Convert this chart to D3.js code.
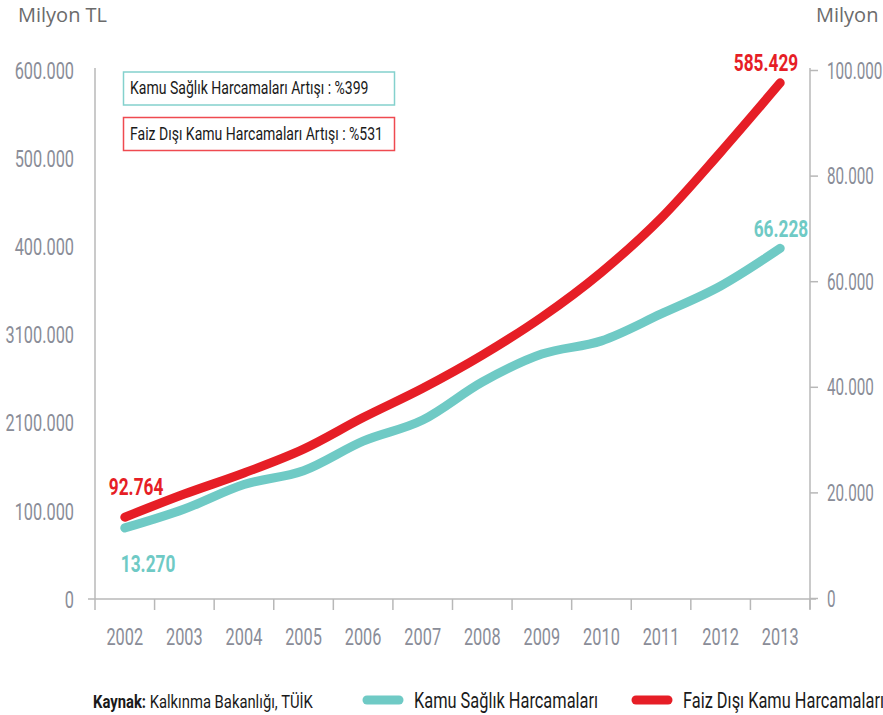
<!DOCTYPE html>
<html><head><meta charset="utf-8">
<script src="https://cdn.jsdelivr.net/npm/d3@7"></script>
<style>body{margin:0;background:#fff}svg{display:block}</style>
</head><body><svg id="c" width="883" height="715"></svg>
<script>
const years = ["2002","2003","2004","2005","2006","2007","2008","2009","2010","2011","2012","2013"];
const faizDisi = [92764,119000,142900,170000,205800,239000,276600,319700,370700,432000,506800,585429];
const saglik = [13270,16860,21500,24100,29700,33700,40900,46200,48700,53800,59100,66228];
const leftTickValues = [0,100000,200000,300000,400000,500000,600000];
const leftTickLabels = ["0","100.000","2100.000","3100.000","400.000","500.000","600.000"];
const rightTickValues = [0,20000,40000,60000,80000,100000];
const rightTickLabels = ["0","20.000","40.000","60.000","80.000","100.000"];
const seriesNames = ["Kamu Sağlık Harcamaları","Faiz Dışı Kamu Harcamaları"];
const increaseLabels = ["Kamu Sağlık Harcamaları Artışı : %399","Faiz Dışı Kamu Harcamaları Artışı : %531"];
const unitLabelLeft = "Milyon TL";
const unitLabelRight = "Milyon";
const sourceBold = "Kaynak:";
const sourceText = " Kalkınma Bakanlığı, TÜİK";

const RED = "#e61e26", TEAL = "#6fcac5", AX = "#b8b8b8", TICKTXT = "#8a8d98";
const FONT = "Roboto, 'Liberation Sans', sans-serif";
const fmt = v => d3.format(",")(v).replace(/,/g, ".");

const svg = d3.select("#c");
const x = d3.scaleBand().domain(years).range([95, 810]).padding(0);
const xc = d => x(d) + x.bandwidth() / 2;
const yL = d3.scaleLinear().domain([0, 600000]).range([599, 70]);
const yR = d3.scaleLinear().domain([0, 100000]).range([598, 70]);

function condense(sel, sx) {
  sel.each(function () {
    const t = d3.select(this);
    const xv = +t.attr("x") || 0;
    t.attr("x", xv / sx).attr("transform", `scale(${sx},1)`);
  });
}
function ctext(px, py, str, opt) {
  const g = svg.append("g").attr("transform", `translate(${px},${py})`);
  const t = g.append("text").attr("x", 0).attr("y", 0)
    .attr("font-family", FONT).attr("font-size", opt.size)
    .attr("font-weight", opt.weight || 400).attr("fill", opt.fill)
    .attr("text-anchor", opt.anchor || "start")
    .attr("transform", `scale(${opt.sx},1)`).text(str);
  return t;
}

// unit labels
svg.append("text").attr("x", 18).attr("y", 22).attr("font-family", "'Open Sans', sans-serif")
  .attr("font-size", 20).attr("fill", "#6b6b6b").text(unitLabelLeft);
svg.append("text").attr("x", 816).attr("y", 22).attr("font-family", "'Open Sans', sans-serif")
  .attr("font-size", 20).attr("fill", "#6b6b6b").text(unitLabelRight);

// left axis
const gL = svg.append("g").attr("transform", "translate(95,0)")
  .call(d3.axisLeft(yL).tickValues(leftTickValues).tickSize(0).tickPadding(21)
    .tickFormat((d, i) => leftTickLabels[i]));
gL.select(".domain").remove();
gL.selectAll("text").attr("font-family", FONT).attr("font-size", 24).attr("fill", TICKTXT).attr("dy", "0.34em");
condense(gL.selectAll("text"), 0.68);
svg.append("line").attr("x1", 95).attr("x2", 95).attr("y1", yL.range()[1] - 2).attr("y2", yL(0) + 11)
  .attr("stroke", AX).attr("stroke-width", 1.5);

// right axis
const gR = svg.append("g").attr("transform", "translate(810,0)")
  .call(d3.axisRight(yR).tickValues(rightTickValues).tickSize(8).tickPadding(9)
    .tickFormat((d, i) => rightTickLabels[i]));
gR.select(".domain").remove();
gR.selectAll("line").attr("stroke", AX).attr("stroke-width", 1.5);
gR.selectAll("text").attr("font-family", FONT).attr("font-size", 24).attr("fill", TICKTXT).attr("dy", "0.34em");
condense(gR.selectAll("text"), 0.635);
svg.append("line").attr("x1", 810).attr("x2", 810).attr("y1", yR.range()[1] - 2).attr("y2", yR(0) + 11)
  .attr("stroke", AX).attr("stroke-width", 1.5);

// x axis
const gX = svg.append("g").attr("transform", `translate(0,${yL(0)})`)
  .call(d3.axisBottom(x).tickSize(0).tickPadding(0));
gX.select(".domain").remove();
gX.selectAll("text").attr("font-family", FONT).attr("font-size", 24).attr("fill", TICKTXT)
  .attr("y", 46).attr("dy", 0);
condense(gX.selectAll("text"), 0.68);
svg.append("line").attr("x1", 88).attr("x2", 816).attr("y1", yL(0)).attr("y2", yL(0))
  .attr("stroke", AX).attr("stroke-width", 1.5);
svg.append("g").selectAll("line").data(years.slice(1).concat(["end"])).join("line")
  .attr("x1", d => d === "end" ? x.range()[1] : x(d))
  .attr("x2", d => d === "end" ? x.range()[1] : x(d))
  .attr("y1", yL(0)).attr("y2", yL(0) + 11)
  .attr("stroke", AX).attr("stroke-width", 1.5);

// lines
const lineL = d3.line().x((d, i) => xc(years[i])).y(d => yL(d)).curve(d3.curveMonotoneX);
const lineR = d3.line().x((d, i) => xc(years[i])).y(d => yR(d)).curve(d3.curveMonotoneX);
svg.append("path").attr("d", lineR(saglik)).attr("fill", "none").attr("stroke", TEAL)
  .attr("stroke-width", 9).attr("stroke-linecap", "round").attr("stroke-linejoin", "round");
svg.append("path").attr("d", lineL(faizDisi)).attr("fill", "none").attr("stroke", RED)
  .attr("stroke-width", 9).attr("stroke-linecap", "round").attr("stroke-linejoin", "round");

// endpoint labels
const last = years.length - 1;
ctext(xc(years[0]) - 16, yL(faizDisi[0]) - 22, fmt(faizDisi[0]), {size: 24, weight: 700, fill: RED, sx: 0.72});
ctext(xc(years[last]) + 18, yL(faizDisi[last]) - 12, fmt(faizDisi[last]), {size: 24, weight: 700, fill: RED, sx: 0.72, anchor: "end"});
ctext(xc(years[0]) - 4, yR(saglik[0]) + 44, fmt(saglik[0]), {size: 24, weight: 700, fill: TEAL, sx: 0.72});
ctext(xc(years[last]) + 28, yR(saglik[last]) - 11, fmt(saglik[last]), {size: 24, weight: 700, fill: TEAL, sx: 0.72, anchor: "end"});

// increase boxes
svg.append("rect").attr("x", 123.5).attr("y", 72).attr("width", 271).attr("height", 33)
  .attr("fill", "#fff").attr("stroke", "#84d1cd").attr("stroke-width", 1.5);
svg.append("rect").attr("x", 123.5).attr("y", 117.5).attr("width", 271).attr("height", 33)
  .attr("fill", "#fff").attr("stroke", "#ef4a50").attr("stroke-width", 1.5);
ctext(130, 94, increaseLabels[0], {size: 18, fill: "#1a1a1a", sx: 0.78});
ctext(130, 140, increaseLabels[1], {size: 18, fill: "#1a1a1a", sx: 0.78});

// source
const src = ctext(93, 708, "", {size: 19, fill: "#1a1a1a", sx: 0.78});
src.append("tspan").attr("font-weight", 700).text(sourceBold);
src.append("tspan").text(sourceText);

// legend
const legendItems = [
  {name: seriesNames[0], color: TEAL, x: 363},
  {name: seriesNames[1], color: RED, x: 632}
];
legendItems.forEach(it => {
  svg.append("line").attr("x1", it.x + 4).attr("x2", it.x + 36).attr("y1", 700).attr("y2", 700)
    .attr("stroke", it.color).attr("stroke-width", 9).attr("stroke-linecap", "round");
  ctext(it.x + 51, 708, it.name, {size: 22, fill: "#1a1a1a", sx: 0.745});
});
</script></body></html>
